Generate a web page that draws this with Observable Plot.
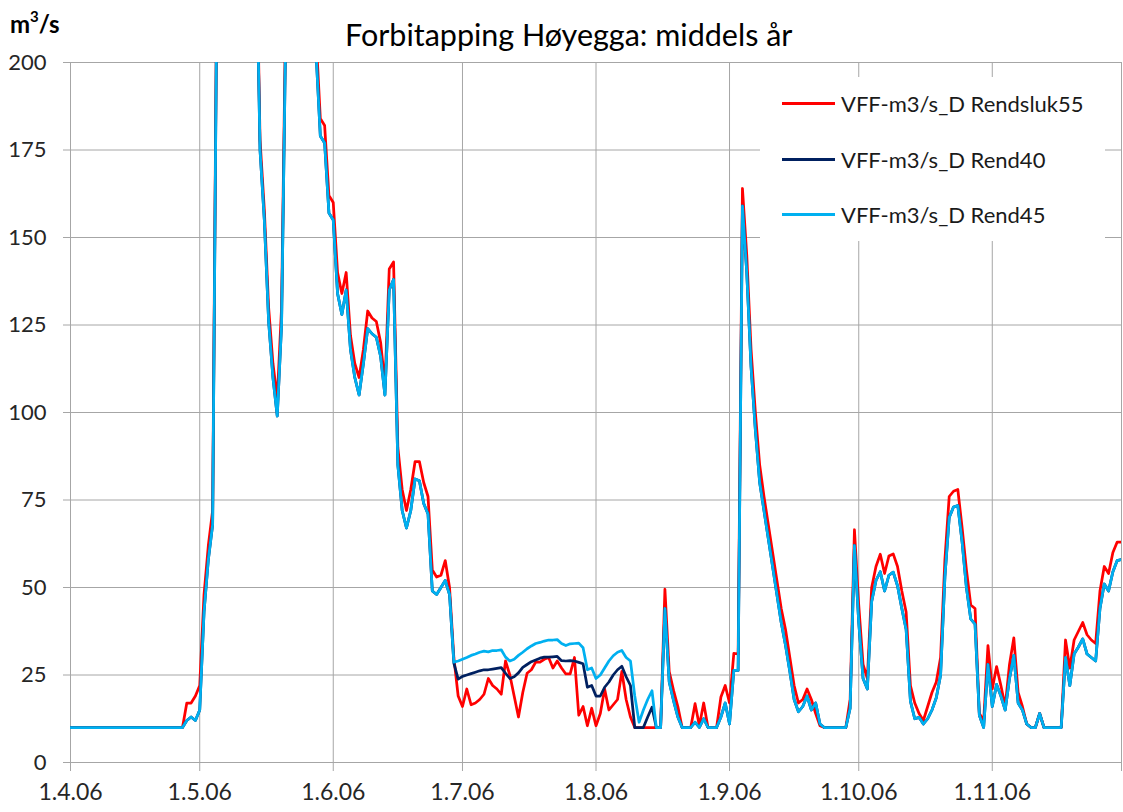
<!DOCTYPE html>
<html>
<head>
<meta charset="utf-8">
<script src="https://cdn.jsdelivr.net/npm/d3@7"></script>
<script src="https://cdn.jsdelivr.net/npm/@observablehq/plot@0.6"></script>
<style>
  body { margin: 0; background: #fff; font-family: Lato, "Open Sans", sans-serif; }
  #wrap { position: relative; width: 1123px; height: 812px; overflow: hidden; background: #fff; }
  #chart { position: absolute; left: 0; top: 0; }
  #title { position: absolute; left: 345px; top: 19px; font-size: 30.5px; line-height: 1; color: #000; white-space: nowrap; }
  #unit { position: absolute; left: 10px; top: 11px; font-size: 24px; font-weight: bold; line-height: 1; color: #000; }
  #unit sup { font-size: 15px; position: relative; top: -2px; }
  #legend { position: absolute; left: 760px; top: 77px; width: 345px; height: 164px; background: #fff; }
  .row { position: absolute; left: 22px; height: 24px; display: flex; align-items: center; white-space: nowrap; font-size: 22px; color: #1a1a1a; }
  .sw { width: 53px; height: 3px; margin-right: 6px; }
</style>
</head>
<body>
<div id="wrap">
  <div id="chart"></div>
  <div id="title"></div>
  <div id="unit">m<sup>3</sup>/s</div>
  <div id="legend"></div>
</div>
<script>
// ---- data (daily, starting at startDate) ----
const startDate = "2006-04-01";
const endDate = "2006-12-01";

const rendsluk55 = [
  // April
  10,10,10,10,10,10,10,10,10,10,10,10,10,10,10,10,10,10,10,10,10,10,10,10,10,10,10,17,17,19,
  // May
  22,48,62,72,230,295,345,315,275,305,365,335,285,248,178,158,130,114,104,130,218,295,335,305,275,255,235,208,184,182,162,
  // June
  160,140,134,140,122,114,110,118,129,127,126,120,108,141,143,90,78,72,78,86,86,80,76,55,53,53.5,57.7,50,30,19,
  // July
  16,21,16.5,17,18,19.5,24,22,21,19.5,29,25,19,13,20,25.5,26.5,28.7,28.7,29.5,30,27,29,27,25.3,25.3,30,13.5,16,10.5,15.5,
  // August
  10.5,14,21,15,16.5,18,26,18,13,10,10,10,10,10,10,10,49.5,26,20.6,16,10,10,10,16.8,10.5,17,10,10,10,18.7,22,
  // September
  17,31.2,31,164,145,118,100,85,76,68,60,52,44,38,30,22,17,18,21,18,14,10.5,10,10,10,10,10,10,18,66.5,
  // October
  45,28,24,50,56,59.5,54,59,59.6,56,49,43,22,17,14,12,16,20,23,30,58,76,77.5,78,67,55,45,44,14,12,33.4,
  // November + 1 Dec
  21,27.4,22,16,28,35.6,20,16,11,10,10,14,10,10,10,10,10,35,27,35,37.5,40,36.5,35,34,49,56,54,60,63,63
];

const rend45 = [
  // April
  10,10,10,10,10,10,10,10,10,10,10,10,10,10,10,10,10,10,10,10,10,10,10,10,10,10,10,12,13,12,
  // May
  15,43,58,68,225,290,340,310,270,300,360,330,280,243,175,155,126,110,99,125,212,290,330,300,270,250,230,203,179,177,157,
  // June
  155,134,128,135,118,110,105,114,124,122.5,121.5,116,105,135,138,85,72,67,72,81,80.5,74,71,49,48,50,52,48,28.7,29,
  // July
  29.5,30,30.6,31,31.5,31.8,31.6,32,32,32.2,30.1,29,29.5,30.6,31.5,32.5,33.3,34,34.3,34.7,35,35,35.1,34,33.4,33.9,34,34.1,32.8,26.5,27,
  // August
  24,25,27,29,30.5,31.5,32,30,29,19,11.5,15,18,20.5,10,10,44,23,17.7,13,10,10,10,11.5,10,12.5,10,10,10,13,17,
  // September
  11,26.3,26.3,159,140,113,95,80,72,64,56,48,40,33.5,26,18,14.5,16,19,15,17,11,10,10,10,10,10,10,15.5,62,
  // October
  40,24,21,46,52,54.5,49,53.5,54.4,50.5,44,38,17.5,12.5,12.9,11,12.5,15,18.5,25,53,70,73,73.4,63,50,41,39.5,13.5,10,28,
  // November + 1 Dec
  16,22.3,19,15,24,30.6,17,15,11,10,10,14,10,10,10,10,10,30,22,31,33,35.3,31,30,29,44,51,49,54.5,57.7,58
];

// Rend40 follows Rend45 except in this summer stretch
const rend40SummerStart = "2006-06-29";
const rend40Summer = [
  28.4,23.8,24.6,25,25.4,25.8,26.2,26.5,26.5,26.7,26.9,27.1,25.5,24,24.5,25.6,27.2,28,28.8,29.3,29.8,30.1,30.1,30.2,30.3,
  29.1,29,29.1,29,28.6,28.2,21.5,22,19,19,21.5,23,25,26.5,27.5,24.5,22,10,10,10,13,15.8,10,10
];

const seriesNames = ["VFF-m3/s_D Rendsluk55", "VFF-m3/s_D Rend40", "VFF-m3/s_D Rend45"];
const seriesColors = ["#ff0000", "#002060", "#00b0f0"];

const monthTicks = ["2006-04-01","2006-05-01","2006-06-01","2006-07-01","2006-08-01","2006-09-01","2006-10-01","2006-11-01","2006-12-01"];
const monthLabels = ["1.4.06","1.5.06","1.6.06","1.7.06","1.8.06","1.9.06","1.10.06","1.11.06",""];
const yTicks = [0,25,50,75,100,125,150,175,200];

const titleText = "Forbitapping Høyegga: middels år";

// ---- build ----
const parse = s => new Date(s + "T00:00:00Z");
const start = parse(startDate);
const rend40 = rend45.slice();
const off = d3.utcDay.count(start, parse(rend40SummerStart));
rend40Summer.forEach((v, k) => { rend40[off + k] = v; });
const toRows = arr => arr.map((v, i) => ({date: d3.utcDay.offset(start, i), value: v}));
const seriesData = [rendsluk55, rend40, rend45].map(toRows);

const tickDates = monthTicks.map(parse);
const labelMap = new Map(tickDates.map((d, i) => [+d, monthLabels[i]]));

const grid = "#a6a6a6";
const txt = "#262626";

const chart = Plot.plot({
  width: 1123,
  height: 812,
  marginLeft: 70,
  marginRight: 2,
  marginTop: 62,
  marginBottom: 50,
  style: {fontFamily: "Lato, 'Open Sans', sans-serif", fontSize: "22px", color: txt, background: "white", overflow: "visible"},
  x: {type: "utc", domain: [start, parse(endDate)]},
  y: {domain: [0, 200]},
  marks: [
    Plot.ruleY(yTicks, {stroke: grid, strokeWidth: 1}),
    Plot.ruleX(tickDates, {stroke: grid, strokeWidth: 1}),
    Plot.axisY(yTicks, {tickSize: 7, tickPadding: 17, stroke: grid, fill: txt, label: null, fontSize: 22}),
    Plot.axisX(tickDates, {tickSize: 9, tickPadding: 12, stroke: grid, fill: txt, label: null, fontSize: 23, tickFormat: d => labelMap.get(+d)}),
    ...seriesData.map((rows, k) => Plot.lineY(rows, {x: "date", y: "value", stroke: seriesColors[k], strokeWidth: 2.75, clip: true}))
  ]
});
document.getElementById("chart").append(chart);
document.getElementById("title").textContent = titleText;

const legend = document.getElementById("legend");
const rowTops = [14, 70, 125];
seriesNames.forEach((name, k) => {
  const row = document.createElement("div");
  row.className = "row";
  row.style.top = rowTops[k] + "px";
  const sw = document.createElement("div");
  sw.className = "sw";
  sw.style.background = seriesColors[k];
  const t = document.createElement("span");
  t.textContent = name;
  row.append(sw, t);
  legend.append(row);
});
</script>
</body>
</html>
